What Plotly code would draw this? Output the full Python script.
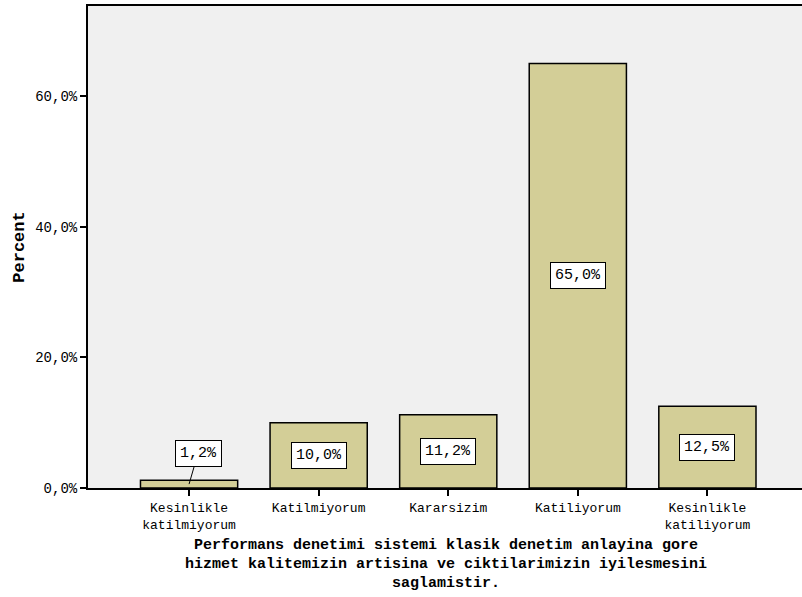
import plotly.graph_objects as go

categories = ["Kesinlikle<br>katilmiyorum", "Katilmiyorum", "Kararsizim",
              "Katiliyorum", "Kesinlikle<br>katiliyorum"]
percents = [1.2, 10.0, 11.2, 65.0, 12.5]
tick_vals = [0, 20, 40, 60]
tick_text = ["0,0%", "20,0%", "40,0%", "60,0%"]
x_title_lines = ["Performans denetimi sistemi klasik denetim anlayina gore",
                 "hizmet kalitemizin artisina ve ciktilarimizin iyilesmesini",
                 "saglamistir."]

MONO = "Liberation Mono, Courier New, monospace"

fig = go.Figure(go.Bar(
    x=list(range(len(categories))), y=percents,
    width=0.75,
    marker=dict(color="#D3CE97", line=dict(color="#000000", width=1.5)),
    hoverinfo="skip",
))

def fmt(v):
    return f"{v:.1f}".replace(".", ",") + "%"

label_style = dict(bgcolor="white", bordercolor="black", borderwidth=1,
                   borderpad=4, font=dict(family=MONO, size=15, color="#000"))

for i, v in enumerate(percents):
    if v < 3:
        # small bar: label sits above, tied to the bar by a leader line
        fig.add_annotation(x=i, y=v / 2, text=fmt(v), showarrow=True,
                           arrowhead=0, arrowwidth=1, arrowcolor="#000",
                           ax=9, ay=-31, standoff=0, **label_style)
    else:
        fig.add_annotation(x=i, y=v / 2, text=fmt(v), showarrow=False,
                           **label_style)

# x-axis title, one line per annotation for tight line spacing
for k, line in enumerate(x_title_lines):
    fig.add_annotation(xref="paper", yref="paper", x=0.501, y=-0.1203 - k * 0.0394,
                       text="<b>" + line + "</b>", showarrow=False,
                       xanchor="center", yanchor="middle",
                       font=dict(family=MONO, size=15, color="#000"))

fig.update_layout(
    width=802, height=597,
    margin=dict(l=88, r=0, t=6, b=109),
    paper_bgcolor="white", plot_bgcolor="#F0F0F0",
    showlegend=False,
    font=dict(family=MONO, size=13, color="#000"),
    xaxis=dict(
        tickmode="array", tickvals=list(range(len(categories))), ticktext=categories,
        range=[-0.78, 4.73], showline=True, linecolor="#000", linewidth=2,
        mirror=True, ticks="outside", ticklen=6, tickcolor="#000", tickwidth=1.5,
        showgrid=False, zeroline=False,
        tickfont=dict(family=MONO, size=13),
    ),
    yaxis=dict(
        tickmode="array", tickvals=tick_vals, ticktext=tick_text,
        range=[0, 73.8], showline=True, linecolor="#000", linewidth=2,
        ticks="outside", ticklen=6, tickcolor="#000", tickwidth=1.5,
        showgrid=False, zeroline=False,
        tickfont=dict(family=MONO, size=14),
        title=dict(text="<b>Percent</b>", font=dict(family=MONO, size=17), standoff=6),
    ),
)

fig.write_html("out.html")
